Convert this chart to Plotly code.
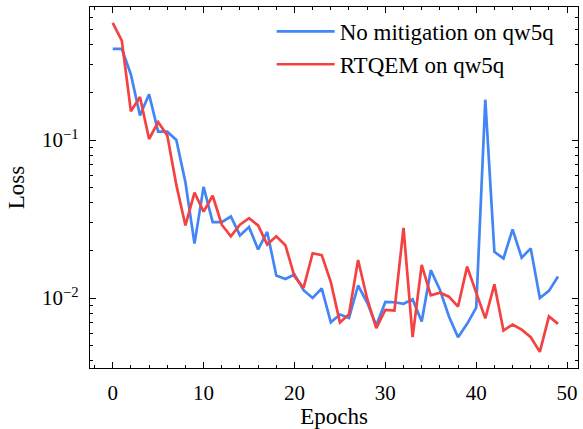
import plotly.graph_objects as go

epochs = list(range(50))
no_mitigation = [0.377, 0.378, 0.26, 0.143, 0.195, 0.113, 0.113, 0.1, 0.054, 0.0221,
                 0.0505, 0.0302, 0.0302, 0.0328, 0.0249, 0.0281, 0.0203, 0.0262, 0.0139, 0.0132,
                 0.0141, 0.0112, 0.01, 0.0115, 0.00701, 0.00787, 0.00747, 0.012, 0.00935, 0.00669,
                 0.00944, 0.0094, 0.0092, 0.0098, 0.0071, 0.015, 0.0113, 0.00764, 0.00565, 0.00686,
                 0.0087, 0.18, 0.0196, 0.0178, 0.0272, 0.018, 0.0206, 0.01, 0.0111, 0.0137]
rtqem = [0.552, 0.426, 0.152, 0.187, 0.1015, 0.13, 0.107, 0.052, 0.0288, 0.0465,
         0.0352, 0.0444, 0.0291, 0.0246, 0.0291, 0.032, 0.0288, 0.0218, 0.0246, 0.0216,
         0.0137, 0.0116, 0.0192, 0.0187, 0.0126, 0.00701, 0.0079, 0.0174, 0.0099, 0.00644,
         0.0084, 0.00833, 0.0278, 0.00565, 0.0162, 0.0104, 0.0108, 0.0102, 0.00883, 0.0158,
         0.0108, 0.00743, 0.0122, 0.00622, 0.0068, 0.00631, 0.00565, 0.00456, 0.00764, 0.00686]

series_names = ["No mitigation on qw5q", "RTQEM on qw5q"]
x_tick_vals = [0, 10, 20, 30, 40, 50]
y_tick_vals = [0.01, 0.1]
y_tick_text = ["10<sup>\u22122</sup>", "10<sup>\u22121</sup>"]
y_minor_vals = [0.004, 0.005, 0.006, 0.007, 0.008, 0.009,
                0.02, 0.03, 0.04, 0.05, 0.06, 0.07, 0.08, 0.09,
                0.2, 0.3, 0.4, 0.5, 0.6]

FONT = "Liberation Serif, Times New Roman, serif"

fig = go.Figure()
fig.add_trace(go.Scatter(x=epochs, y=no_mitigation, mode="lines", name=series_names[0],
                         line=dict(color="#4285F4", width=2.7)))
fig.add_trace(go.Scatter(x=epochs, y=rtqem, mode="lines", name=series_names[1],
                         line=dict(color="#F44242", width=2.7)))

fig.update_layout(
    width=583, height=429,
    margin=dict(l=90, r=4, t=7, b=56),
    paper_bgcolor="white", plot_bgcolor="white",
    font=dict(family=FONT, size=21, color="black"),
    showlegend=True,
    legend=dict(x=0.3722, y=0.992, xanchor="left", yanchor="top",
                bgcolor="rgba(0,0,0,0)", font=dict(family=FONT, size=23, color="black"),
                itemwidth=58, tracegroupgap=0),
    xaxis=dict(
        range=[-2.5, 51.2], tickvals=x_tick_vals,
        showline=True, linecolor="black", linewidth=1.3, mirror="ticks",
        ticks="inside", ticklen=6, tickwidth=1.2, tickcolor="black",
        showgrid=False, zeroline=False,
        tickfont=dict(family=FONT, size=21, color="black"),
        minor=dict(ticks="inside", ticklen=3, tickwidth=1, tickcolor="black", dtick=2, tick0=0),
        title=dict(text="Epochs", font=dict(family=FONT, size=23, color="black"), standoff=4),
        ticklabelstandoff=6,
    ),
    yaxis=dict(
        type="log", range=[-2.443, -0.158],
        tickvals=y_tick_vals, ticktext=y_tick_text,
        showline=True, linecolor="black", linewidth=1.3, mirror="ticks",
        ticks="inside", ticklen=6, tickwidth=1.2, tickcolor="black",
        showgrid=False, zeroline=False,
        tickfont=dict(family=FONT, size=21, color="black"),
        minor=dict(ticks="inside", ticklen=3, tickwidth=1, tickcolor="black", tickvals=y_minor_vals),
        title=dict(text="Loss", font=dict(family=FONT, size=23, color="black"), standoff=10),
        ticklabelstandoff=6,
    ),
)

fig.write_html("out.html")
